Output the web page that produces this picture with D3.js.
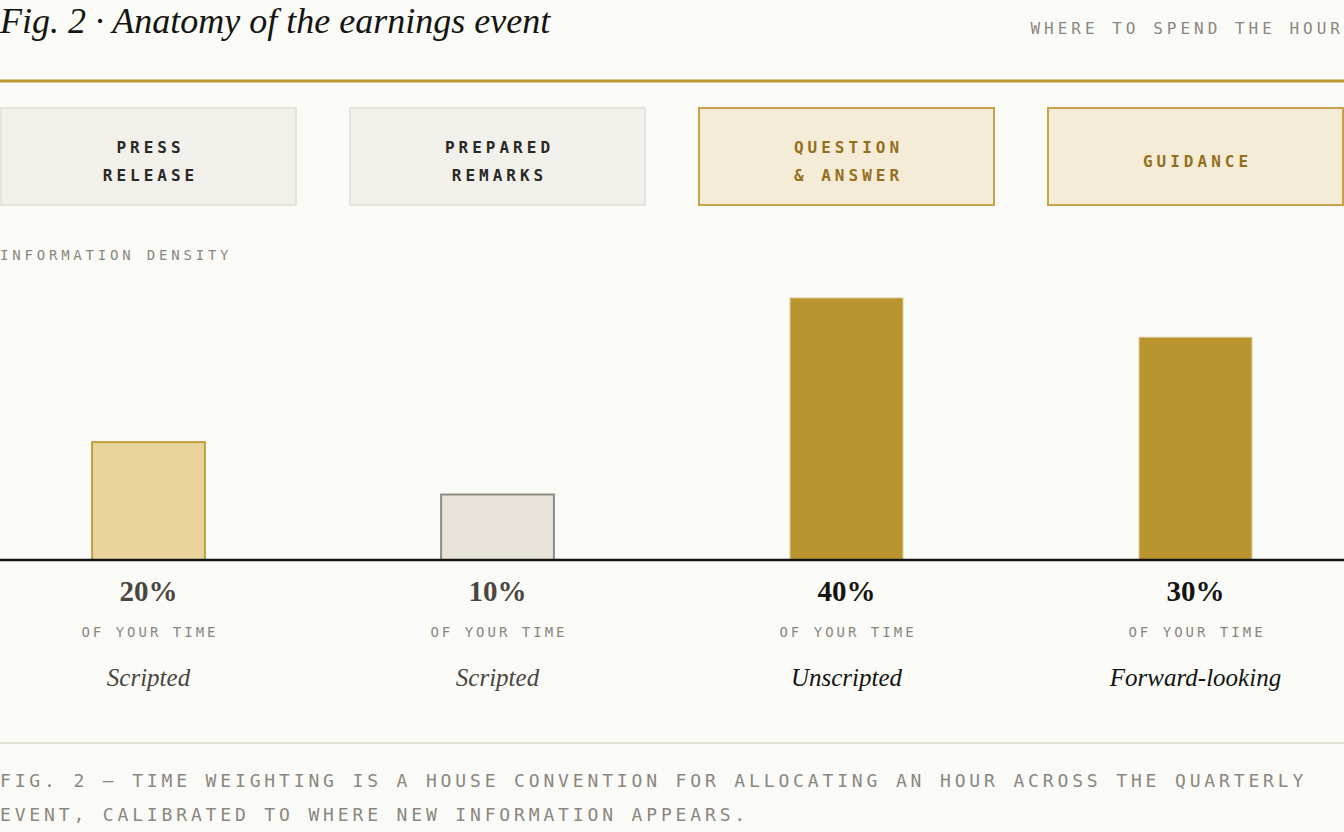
<!DOCTYPE html>
<html lang="en">
<head>
  <meta charset="UTF-8">
  <title>Anatomy of the earnings event</title>
  <script src="https://d3js.org/d3.v7.min.js"></script>
  <style>
    html, body { margin: 0; padding: 0; background: #fafaf6; }
    svg { display: block; }
    .mono { font-family: "DejaVu Sans Mono", "Liberation Mono", monospace; }
    .serif { font-family: "Liberation Serif", "DejaVu Serif", serif; }
  </style>
</head>
<body>
<div id="chart"></div>
<script>
  // chart data
  var stages = [["PRESS", "RELEASE"], ["PREPARED", "REMARKS"], ["QUESTION", "& ANSWER"], ["GUIDANCE"]];
  var timeShare = [20, 10, 40, 30];
  var density = [45, 25, 100, 85];
  var character = ["Scripted", "Scripted", "Unscripted", "Forward-looking"];

  let width = 1344;
  let height = 832;
  let gold = "#b8952e";
  let grey = "#8a877f";

  // look per column: 0 = light gold, 1 = grey, 2 = solid gold
  let look = [0, 1, 2, 2];
  let boxFill = ["#f2f0eb", "#f2f0eb", "#f5ecd8", "#f5ecd8"];
  let boxStroke = ["#e7e3d8", "#e7e3d8", "#c6a24a", "#c6a24a"];
  let boxText = ["#2a2925", "#2a2925", "#94701e", "#94701e"];
  let barFill = ["#e8d49c", "#e8e3d8", gold];
  let barStroke = ["#c29f3e", "#8f8c82", "#d9c58a"];
  let labelColor = ["#4a463f", "#4a463f", "#141412", "#141412"];

  let svg = d3.select("#chart").append("svg").attr("width", width).attr("height", height);

  let idx = d3.range(stages.length);
  let x = d3.scaleBand().domain(idx).range([0, width]).paddingInner(0.149).paddingOuter(0);
  let baseY = 560;
  let y = d3.scaleLinear().domain([0, 100]).range([baseY, 298]);
  let barW = x.bandwidth() * 0.38;
  let cx = function(i) { return x(i) + x.bandwidth() / 2; };

  // header
  svg.append("text").attr("class", "serif").attr("x", 0).attr("y", 33)
    .style("font-size", "36px").style("font-style", "italic").style("fill", "#141412")
    .text("Fig. 2 · Anatomy of the earnings event");
  svg.append("text").attr("class", "mono").attr("x", width).attr("y", 34)
    .attr("text-anchor", "end").style("font-size", "16px").style("letter-spacing", "4px").style("fill", grey)
    .text("WHERE TO SPEND THE HOUR");
  svg.append("line").attr("x1", 0).attr("x2", width).attr("y1", 81).attr("y2", 81)
    .style("stroke", gold).style("stroke-width", 3);

  // stage boxes
  let boxes = svg.selectAll(".stage").data(idx).enter().append("g").attr("class", "stage");
  boxes.append("rect")
    .attr("x", function(i) { return x(i) + 1; }).attr("y", 108)
    .attr("width", x.bandwidth() - 2).attr("height", 97)
    .style("fill", function(i) { return boxFill[i]; })
    .style("stroke", function(i) { return boxStroke[i]; }).style("stroke-width", 2);
  boxes.each(function(i) {
    let lines = stages[i];
    let y0 = lines.length === 1 ? 167 : 153;
    let t = d3.select(this).append("text").attr("class", "mono")
      .attr("text-anchor", "middle").style("font-size", "16px").style("font-weight", "bold")
      .style("letter-spacing", "4px").style("fill", boxText[i]);
    lines.forEach(function(l, k) {
      t.append("tspan").attr("x", cx(i) + 2).attr("y", y0 + k * 28).text(l);
    });
  });

  svg.append("text").attr("class", "mono").attr("x", 0).attr("y", 260)
    .style("font-size", "14px").style("letter-spacing", "3.8px").style("fill", grey)
    .text("INFORMATION DENSITY");

  // bars
  svg.selectAll(".bar").data(idx).enter().append("rect").attr("class", "bar")
    .attr("x", function(i) { return cx(i) - barW / 2; })
    .attr("y", function(i) { return y(density[i]); })
    .attr("width", barW)
    .attr("height", function(i) { return baseY - y(density[i]); })
    .style("fill", function(i) { return barFill[look[i]]; })
    .style("stroke", function(i) { return barStroke[look[i]]; })
    .style("stroke-width", function(i) { return look[i] === 2 ? 1 : 2; });

  svg.append("line").attr("x1", 0).attr("x2", width).attr("y1", baseY).attr("y2", baseY)
    .style("stroke", "#141412").style("stroke-width", 2.5);

  // labels under bars
  svg.selectAll(".pct").data(idx).enter().append("text").attr("class", "serif")
    .attr("x", cx).attr("y", 601).attr("text-anchor", "middle")
    .style("font-size", "29px").style("font-weight", "bold")
    .style("fill", function(i) { return labelColor[i]; })
    .text(function(i) { return timeShare[i] + "%"; });
  svg.selectAll(".oft").data(idx).enter().append("text").attr("class", "mono")
    .attr("x", function(i) { return cx(i) + 1.5; }).attr("y", 637).attr("text-anchor", "middle")
    .style("font-size", "14px").style("letter-spacing", "3px").style("fill", grey)
    .text("OF YOUR TIME");
  svg.selectAll(".char").data(idx).enter().append("text").attr("class", "serif")
    .attr("x", cx).attr("y", 686).attr("text-anchor", "middle")
    .style("font-size", "25px").style("font-style", "italic")
    .style("fill", function(i) { return labelColor[i]; })
    .text(function(i) { return character[i]; });

  // footer
  svg.append("line").attr("x1", 0).attr("x2", width).attr("y1", 743).attr("y2", 743)
    .style("stroke", "#e6e2d6").style("stroke-width", 2);
  let foot = svg.append("text").attr("class", "mono").style("font-size", "18px")
    .style("letter-spacing", "3.85px").style("fill", grey);
  foot.append("tspan").attr("x", 0).attr("y", 787)
    .text("FIG. 2 — TIME WEIGHTING IS A HOUSE CONVENTION FOR ALLOCATING AN HOUR ACROSS THE QUARTERLY");
  foot.append("tspan").attr("x", 0).attr("y", 821)
    .text("EVENT, CALIBRATED TO WHERE NEW INFORMATION APPEARS.");
</script>
</body>
</html>
